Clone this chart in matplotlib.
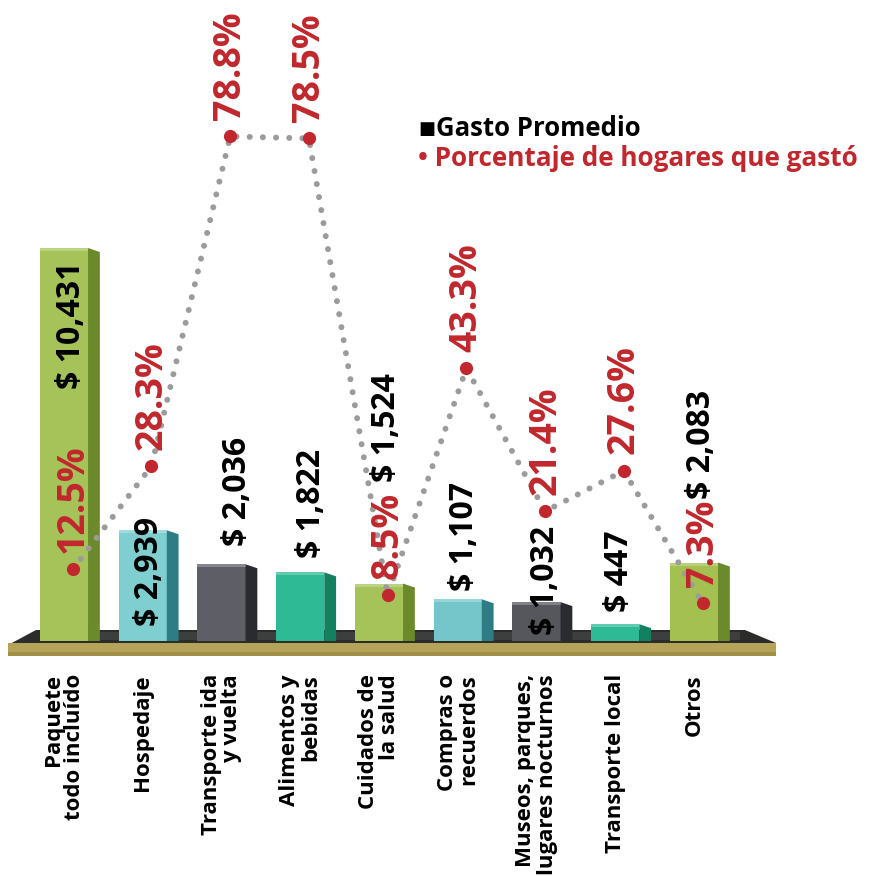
import matplotlib
matplotlib.use("Agg")
import matplotlib.pyplot as plt
from matplotlib.patches import Polygon, Rectangle
import numpy as np

plt.rcParams['font.family'] = ['Open Sans', 'DejaVu Sans']
plt.rcParams['font.weight'] = 'bold'

# ---------------- data ----------------
categories = ["Paquete\ntodo incluído", "Hospedaje", "Transporte ida\ny vuelta",
              "Alimentos y\nbebidas", "Cuidados de\nla salud", "Compras o\nrecuerdos",
              "Museos, parques,\nlugares nocturnos", "Transporte local", "Otros"]
gasto = [10431, 2939, 2036, 1822, 1524, 1107, 1032, 447, 2083]
gasto_labels = ["$ 10,431", "$ 2,939", "$ 2,036", "$ 1,822", "$ 1,524",
                "$ 1,107", "$ 1,032", "$ 447", "$ 2,083"]
porcentaje = [12.5, 28.3, 78.8, 78.5, 8.5, 43.3, 21.4, 27.6, 7.3]
porcentaje_labels = ["12.5%", "28.3%", "78.8%", "78.5%", "8.5%",
                     "43.3%", "21.4%", "27.6%", "7.3%"]

# ---------------- styles ----------------
front_colors = ["#a6c35a", "#7fcfd1", "#5e5f66", "#2fba96", "#a6c35a",
                "#74c6ca", "#56575d", "#2fba96", "#a4c050"]
side_colors = ["#6b8a2c", "#2f7d84", "#2a2b30", "#13805f", "#6b8a2c",
               "#2f7d84", "#2a2b30", "#13805f", "#6b8a2c"]
# value-label offsets (points) relative to the top of each bar; negative = inside
label_offsets = [-10, 10, 13, 10, 73, 6, -24, 9, 46]
label_anchor = ['top', 'top', 'bottom', 'bottom', 'bottom', 'bottom', 'bottom', 'bottom', 'bottom']
label_dx = [0.10, 0.09, 0.20, 0.14, 0.09, 0.09, 0.12, 0.05, 0.09]
RED = "#c1272d"

W, H = 880, 881
fig = plt.figure(figsize=(W / 100, H / 100), dpi=100)
ax = fig.add_axes([0, 0, 1, 1])
ax.set_axis_off()

spacing = 78.75   # px per category
x0_px = 64        # px of first bar center
base_px = 641     # px (from top) of bar baseline
px_per_dollar = 393 / 10431
ax.set_xlim(-x0_px / spacing, (W - x0_px) / spacing)
ax.set_ylim(-(H - base_px) / px_per_dollar, base_px / px_per_dollar)

ax2 = ax.twinx()
ax2.set_axis_off()
p0_px, px_per_pct = 651, 6.53
ax2.set_ylim((p0_px - H) / px_per_pct, p0_px / px_per_pct)

x = np.arange(len(categories))
bw = 0.61     # front width
depth = 0.15  # side depth
slant = 4 / px_per_dollar

# platform
xt = ax.get_xaxis_transform()
def fy(px):
    return (H - px) / H
plat_x0 = (8 - x0_px) / spacing
plat_x1 = (776 - x0_px) / spacing
ax.add_patch(Polygon([(plat_x0, fy(645)), ((36 - x0_px) / spacing, fy(630)),
                      ((745 - x0_px) / spacing, fy(630)), (plat_x1, fy(643))],
                     closed=True, transform=xt, facecolor="#2c2c2a", edgecolor='none', zorder=1))
ax.add_patch(Polygon([((60 - x0_px) / spacing, fy(640)), ((60 - x0_px) / spacing, fy(632)),
                      ((740 - x0_px) / spacing, fy(632)), ((740 - x0_px) / spacing, fy(640))],
                     closed=True, transform=xt, facecolor="#4a4d4c", edgecolor='none', zorder=1, alpha=0.6))
ax.add_patch(Rectangle((plat_x0, fy(656)), plat_x1 - plat_x0, fy(643) - fy(656),
                       transform=xt, facecolor="#b5a35a", edgecolor='none', zorder=1))
ax.add_patch(Rectangle((plat_x0, fy(656)), plat_x1 - plat_x0, fy(652) - fy(656),
                       transform=xt, facecolor="#a08f48", edgecolor='none', zorder=1))

# bars
ax.bar(x, gasto, width=bw, color=front_colors, edgecolor='none', zorder=3)
for i, v in enumerate(gasto):
    xr = x[i] + bw / 2
    ax.add_patch(Polygon([(xr, 0), (xr, v), (xr + depth, v - slant), (xr + depth, 0)],
                         closed=True, facecolor=side_colors[i], edgecolor='none', zorder=3))
    ax.add_patch(Rectangle((x[i] - bw / 2, v - 3 / px_per_dollar), bw, 3 / px_per_dollar,
                           facecolor='white', alpha=0.25, edgecolor='none', zorder=4))

# value labels
for i, v in enumerate(gasto):
    ax.annotate(gasto_labels[i], xy=(x[i] + label_dx[i], v), xytext=(0, label_offsets[i]),
                textcoords='offset points', rotation=90, ha='center', va=label_anchor[i],
                fontsize=23, fontweight='bold', color='black', zorder=6)

# percentage line and dots
xp = x + 0.11
ax2.plot(xp, porcentaje, color="#9b9b9b", lw=4.3, dash_capstyle='round',
         linestyle=(0, (0.01, 2.2)), zorder=5)
ax2.plot(xp, porcentaje, 'o', color=RED, markersize=9.5, markeredgewidth=0, zorder=6)
for i, p in enumerate(porcentaje):
    ax2.annotate(porcentaje_labels[i], xy=(xp[i], p), xytext=(0, 12),
                 textcoords='offset points', rotation=90, ha='center', va='bottom',
                 fontsize=27, fontweight='bold', color=RED, zorder=7)

# category labels
for i, c in enumerate(categories):
    ax.text(x[i], fy(674), c, transform=xt, rotation=90, ha='center', va='top',
            multialignment='right', fontsize=16, fontweight='bold', color='black',
            linespacing=1.0)

# legend
fig.text(418 / W, fy(129), "■", fontsize=13, color='black', va='center', ha='left',
         family='DejaVu Sans')
fig.text(436 / W, fy(128), "Gasto Promedio", fontsize=18.5, fontweight='bold',
         color='black', va='center', ha='left')
fig.text(418 / W, fy(159), "• Porcentaje de hogares que gastó", fontsize=18.8,
         fontweight='bold', color=RED, va='center', ha='left')

fig.savefig("out.png", dpi=100)
